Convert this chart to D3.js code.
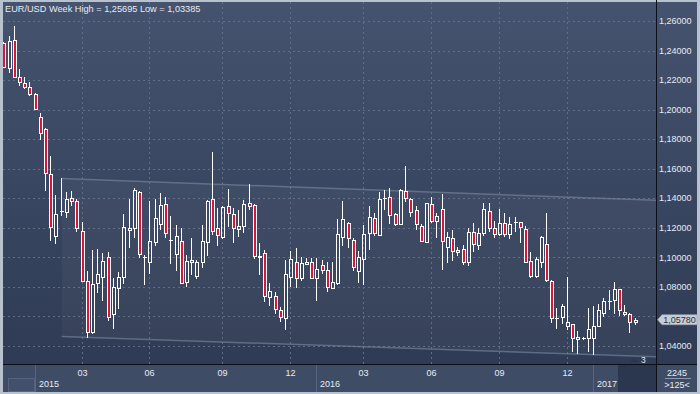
<!DOCTYPE html>
<html><head><meta charset="utf-8">
<script src="https://cdn.jsdelivr.net/npm/d3@7"></script>
<style>
html,body{margin:0;padding:0;background:#b8c2ce;overflow:hidden}
svg{display:block}
text{font-family:"Liberation Sans",Arial,sans-serif}
</style>
</head><body><svg id="c" width="700" height="394"></svg>
<script>
// ---- data (weekly EUR/USD candles) ----
const opens  = [1.2450,1.2285,1.2472,1.2220,1.2179,1.2152,1.2106,1.1949,1.1867,1.1563,1.1147,1.1312,1.1310,1.1400,1.1382,1.1179,1.0840,1.0497,1.0825,1.0865,1.1001,1.0615,1.0791,1.0865,1.1186,1.1197,1.1441,1.1001,1.0967,1.1106,1.1224,1.1360,1.1113,1.1021,1.1113,1.0836,1.0971,1.0874,1.0967,1.1102,1.1396,1.1197,1.1140,1.1348,1.1292,1.1190,1.1215,1.1366,1.1355,1.1010,1.1028,1.0730,1.0739,1.0644,1.0588,1.0869,1.0971,1.0859,1.0955,1.0967,1.0863,1.0949,1.0915,1.0791,1.0825,1.1140,1.1235,1.1118,1.0910,1.0989,1.1163,1.1269,1.1152,1.1397,1.1407,1.1292,1.1226,1.1452,1.1396,1.1321,1.1215,1.1106,1.1362,1.1249,1.1326,1.1073,1.1129,1.1050,1.1057,1.0967,1.1170,1.1084,1.1163,1.1314,1.1197,1.1157,1.1235,1.1157,1.1236,1.1238,1.1192,1.0976,1.0876,1.0971,1.1089,1.0840,1.0588,1.0599,1.0536,1.0549,1.0448,1.0452,1.0452,1.0456,1.0536,1.0622,1.0696,1.0712,1.0784,1.0628,1.0615,1.0563];
const highs  = [1.2459,1.2499,1.25695,1.2276,1.2220,1.2186,1.2110,1.1976,1.1874,1.1687,1.1423,1.1536,1.1445,1.1450,1.1396,1.1238,1.0908,1.1050,1.1057,1.1028,1.1035,1.0863,1.0899,1.1294,1.1396,1.1468,1.1450,1.1016,1.1384,1.1396,1.1434,1.1407,1.1280,1.1219,1.1201,1.1016,1.1129,1.0983,1.1219,1.1386,1.1716,1.1333,1.1348,1.1461,1.1333,1.1321,1.1389,1.1497,1.1360,1.1100,1.1050,1.0825,1.0768,1.0666,1.0983,1.1045,1.1066,1.1005,1.0998,1.0998,1.0998,1.0983,1.0971,1.0971,1.1258,1.1382,1.1242,1.1129,1.1045,1.1219,1.1348,1.1299,1.1445,1.1456,1.1468,1.1299,1.1461,1.1619,1.1400,1.1348,1.1224,1.1371,1.1411,1.1299,1.1429,1.1174,1.1186,1.1073,1.1084,1.1197,1.1235,1.1197,1.1366,1.1366,1.1249,1.1326,1.1299,1.1276,1.1276,1.1242,1.1213,1.1039,1.1005,1.1145,1.1303,1.0845,1.0655,1.0685,1.0869,1.0552,1.0502,1.0463,1.0655,1.0671,1.0685,1.0723,1.0779,1.0836,1.0788,1.0678,1.0626,1.0588];
const lows   = [1.2282,1.2247,1.2217,1.2163,1.2140,1.2095,1.2000,1.1795,1.1452,1.1113,1.1091,1.1287,1.1269,1.1350,1.1170,1.0836,1.0456,1.0479,1.0761,1.0707,1.0570,1.0515,1.0651,1.0820,1.1066,1.1129,1.0998,1.0818,1.0886,1.1079,1.1186,1.1129,1.0964,1.0910,1.0820,1.0802,1.0881,1.0852,1.0926,1.1012,1.1152,1.1079,1.1123,1.1208,1.1100,1.1136,1.1167,1.1321,1.0989,1.0888,1.0700,1.0671,1.0615,1.0565,1.0509,1.0802,1.0795,1.0840,1.0949,1.0854,1.0707,1.0886,1.0768,1.0784,1.0813,1.1077,1.1062,1.0910,1.0825,1.0813,1.1050,1.1145,1.1147,1.1326,1.1226,1.1215,1.1219,1.1377,1.1276,1.1186,1.1102,1.1096,1.1235,1.1129,1.0915,1.0964,1.0976,1.1012,1.0949,1.0944,1.1039,1.1050,1.1147,1.1174,1.1134,1.1145,1.1140,1.1123,1.1181,1.1100,1.0964,1.0859,1.0859,1.0926,1.0832,1.0558,1.0520,1.0549,1.0509,1.0362,1.0346,1.0446,1.0362,1.03385,1.0531,1.0599,1.0651,1.0617,1.0605,1.0603,1.0490,1.0542];
const closes = [1.2287,1.2465,1.2224,1.2186,1.2152,1.2106,1.2003,1.1840,1.1570,1.1204,1.1292,1.1316,1.1396,1.1382,1.1197,1.0842,1.0493,1.0818,1.0888,1.0976,1.0599,1.0802,1.0865,1.1204,1.1199,1.1456,1.1021,1.1003,1.1113,1.1265,1.1353,1.1163,1.1115,1.1147,1.0829,1.0978,1.0983,1.0967,1.1113,1.1384,1.1181,1.1152,1.1339,1.1299,1.1197,1.1215,1.1360,1.1346,1.1012,1.1008,1.0739,1.0771,1.0649,1.0595,1.0886,1.0987,1.0863,1.0960,1.0967,1.0863,1.0920,1.0915,1.0798,1.0832,1.1157,1.1258,1.1129,1.0933,1.1001,1.1157,1.1272,1.1163,1.1393,1.1399,1.1287,1.1224,1.1456,1.1400,1.1305,1.1224,1.1113,1.1366,1.1249,1.1280,1.1111,1.1136,1.1045,1.1037,1.0971,1.1170,1.1091,1.1163,1.1326,1.1197,1.1157,1.1231,1.1157,1.1224,1.1238,1.1204,1.0971,1.0874,1.0989,1.1140,1.0847,1.0588,1.0590,1.0671,1.0561,1.0452,1.0459,1.0454,1.0513,1.0536,1.0644,1.0705,1.0705,1.0784,1.0644,1.0615,1.0561,1.0578];

const priceTicks = [1.04,1.06,1.08,1.10,1.12,1.14,1.16,1.18,1.20,1.22,1.24,1.26];
const monthTickIndex  = [15,28,42,55,69,82,95,108];
const monthTickLabels = ["03","06","09","12","03","06","09","12"];
const yearStartIndex  = [6,60,113];
const yearLabels      = ["2015","2016","2017"];
const channelIndex = [11,125];
const channelUpper = [1.1534,1.1386];
const channelLower = [1.0464,1.0327];
const titleText = "EUR/USD Week High = 1,25695 Low = 1,03385";
const barCountText = "2245";
const zoomText = ">125<";
const markerText = "3";

// ---- layout ----
const W = 700, H = 394;
const plot = {l:3, t:2, r:656, b:364};
const svg = d3.select("#c");
const defs = svg.append("defs");

const x = d3.scaleLinear().domain([0, opens.length-1]).range([4.3, 635.7]);
const y = d3.scaleLinear().domain([1.04, 1.26]).range([346, 21.1]);
const fmt = v => d3.format(".5f")(v).replace(".", ",");

// frame
svg.append("rect").attr("width",W).attr("height",H).attr("fill","#b8c2ce");

// background gradient
const g1 = defs.append("linearGradient").attr("id","bg").attr("x1",0).attr("y1",0).attr("x2",0).attr("y2",1);
g1.append("stop").attr("offset","0%").attr("stop-color","#45536e");
g1.append("stop").attr("offset","45%").attr("stop-color","#3b4863");
g1.append("stop").attr("offset","100%").attr("stop-color","#2f3b54");

svg.append("rect").attr("x",plot.l).attr("y",plot.t).attr("width",697-plot.l).attr("height",plot.b-plot.t)
  .attr("fill","url(#bg)");

defs.append("clipPath").attr("id","clip").append("rect")
  .attr("x",plot.l).attr("y",plot.t).attr("width",plot.r-plot.l).attr("height",plot.b-plot.t);

const pg = svg.append("g").attr("clip-path","url(#clip)");

// channel fill
const chPts = [[x(channelIndex[0]),y(channelUpper[0])],[x(channelIndex[1]),y(channelUpper[1])],
               [x(channelIndex[1]),y(channelLower[1])],[x(channelIndex[0]),y(channelLower[0])]];
pg.append("path").attr("d", d3.line()(chPts)+"Z").attr("fill","rgba(255,255,255,0.035)");

// horizontal grid
pg.selectAll("line.hg").data(priceTicks).join("line")
  .attr("x1",plot.l).attr("x2",plot.r)
  .attr("y1",d=>Math.round(y(d))+0.5).attr("y2",d=>Math.round(y(d))+0.5)
  .attr("stroke","#5f6d88").attr("stroke-width",1).attr("stroke-dasharray","2,3");
// vertical grid
pg.selectAll("line.vg").data(monthTickIndex).join("line")
  .attr("x1",d=>Math.round(x(d))-0.5).attr("x2",d=>Math.round(x(d))-0.5)
  .attr("y1",plot.t).attr("y2",plot.b)
  .attr("stroke","#5f6d88").attr("stroke-width",1).attr("stroke-dasharray","2,3");

// channel lines
[channelUpper, channelLower].forEach(arr=>{
  pg.append("line")
    .attr("x1",x(channelIndex[0])).attr("y1",y(arr[0]))
    .attr("x2",x(channelIndex[1])).attr("y2",y(arr[1]))
    .attr("stroke","#7f8aa0").attr("stroke-width",1.5).attr("opacity",0.6);
});

// candles
const data = opens.map((o,i)=>({i,o,h:highs[i],l:lows[i],c:closes[i]}));
const cg = pg.append("g");
data.forEach(d=>{
  const cx = Math.round(x(d.i));
  const top = Math.round(y(Math.max(d.o,d.c)));
  const bot = Math.round(y(Math.min(d.o,d.c)));
  const hy = Math.round(y(d.h)), ly = Math.round(y(d.l));
  const wx = cx - 0.5;
  const bull = d.c >= d.o;
  if (bot - top < 1.5) {
    cg.append("line").attr("x1",wx).attr("x2",wx).attr("y1",hy).attr("y2",ly+1)
      .attr("stroke","#fff").attr("stroke-width",1);
    cg.append("line").attr("x1",cx-2).attr("x2",cx+2).attr("y1",top+0.5).attr("y2",top+0.5)
      .attr("stroke","#fff").attr("stroke-width",1);
    if(!bull){
      cg.append("rect").attr("x",cx-1.5).attr("y",top+0.5).attr("width",3).attr("height",Math.max(1,bot-top))
        .attr("fill","#dc143c").attr("stroke","#fff").attr("stroke-width",1);
    }
    return;
  }
  if (hy < top) cg.append("line").attr("x1",wx).attr("x2",wx).attr("y1",hy).attr("y2",top)
      .attr("stroke","#fff").attr("stroke-width",1);
  if (ly > bot) cg.append("line").attr("x1",wx).attr("x2",wx).attr("y1",bot).attr("y2",ly)
      .attr("stroke","#fff").attr("stroke-width",1);
  cg.append("rect").attr("x",cx-1.5).attr("y",top+0.5).attr("width",3).attr("height",bot-top)
    .attr("fill", bull ? "none" : "#dc143c").attr("stroke","#fff").attr("stroke-width",1);
});

// title
svg.append("text").attr("x",5).attr("y",12).attr("fill","#e6ebf3").attr("font-size","9.2px").text(titleText);

// marker "3"
svg.append("path").attr("d",`M630,362 L634,358 L638,362 Z`).attr("fill","#2a3550");
svg.append("text").attr("x",641).attr("y",362.5).attr("fill","#e6ebf3").attr("font-size","8.5px").text(markerText);

// right axis
const lp = closes[closes.length-1];
const ly0 = y(lp);
svg.append("line").attr("x1",656.5).attr("x2",656.5).attr("y1",0).attr("y2",392).attr("stroke","#0b0f18").attr("stroke-width",1);
// labels hidden behind the last-price tag are not drawn (as in the reference)
svg.selectAll("text.pl").data(priceTicks.filter(d=>Math.abs(y(d)-ly0) > 9)).join("text")
  .attr("x",659).attr("y",d=>y(d)).attr("dy","0.35em")
  .attr("fill","#e6ebf3").attr("font-size","9px").text(fmt);

// last price tag
svg.append("path")
  .attr("d",`M657.5,${ly0} L662,${ly0-5} L697,${ly0-5} L697,${ly0+5} L662,${ly0+5} Z`)
  .attr("fill","#c8ced8").attr("stroke","#9aa4b4").attr("stroke-width",0.6);
svg.append("text").attr("x",679.5).attr("y",ly0).attr("dy","0.35em").attr("text-anchor","middle")
  .attr("fill","#2b2f38").attr("font-size","9px").text(fmt(lp));

// bottom axis panel
const bottomY = 365;
svg.append("rect").attr("x",3).attr("y",bottomY).attr("width",694).attr("height",392-bottomY).attr("fill","#3f4c66");
svg.append("rect").attr("x",8.5).attr("y",378.5).attr("width",26).attr("height",13).attr("fill","#42506b").attr("stroke","#56647f").attr("stroke-width",1);
svg.append("rect").attr("x",618).attr("y",bottomY).attr("width",38).attr("height",392-bottomY).attr("fill","#2b374f");
svg.append("rect").attr("x",657).attr("y",bottomY).attr("width",40).attr("height",392-bottomY).attr("fill","#3f4c66");
svg.append("line").attr("x1",3).attr("x2",697).attr("y1",364.5).attr("y2",364.5).attr("stroke","#0b0f18").attr("stroke-width",1);
svg.append("line").attr("x1",656.5).attr("x2",656.5).attr("y1",364).attr("y2",392).attr("stroke","#0b0f18").attr("stroke-width",1);

// year boxes dividers
svg.selectAll("line.yd").data(yearStartIndex).join("line")
  .attr("x1",d=>Math.round(x(d))-0.5).attr("x2",d=>Math.round(x(d))-0.5)
  .attr("y1",bottomY).attr("y2",392).attr("stroke","#56647f").attr("stroke-width",1);
svg.selectAll("text.yl").data(yearStartIndex).join("text")
  .attr("x",d=>Math.round(x(d))+3).attr("y",387)
  .attr("fill","#e6ebf3").attr("font-size","9px").text((d,i)=>yearLabels[i]);
svg.selectAll("text.ml").data(monthTickIndex).join("text")
  .attr("x",d=>Math.round(x(d))-0.5).attr("y",376).attr("text-anchor","middle")
  .attr("fill","#e6ebf3").attr("font-size","9px").text((d,i)=>monthTickLabels[i]);

// bottom-right info box
svg.append("text").attr("x",677).attr("y",375.5).attr("text-anchor","middle").attr("fill","#e6ebf3").attr("font-size","9px").text(barCountText);
svg.append("line").attr("x1",665).attr("x2",691).attr("y1",378.5).attr("y2",378.5).attr("stroke","#8e99ab").attr("stroke-width",1);
svg.append("text").attr("x",677).attr("y",388).attr("text-anchor","middle").attr("fill","#e6ebf3").attr("font-size","9px").text(zoomText);
</script>
</body></html>
